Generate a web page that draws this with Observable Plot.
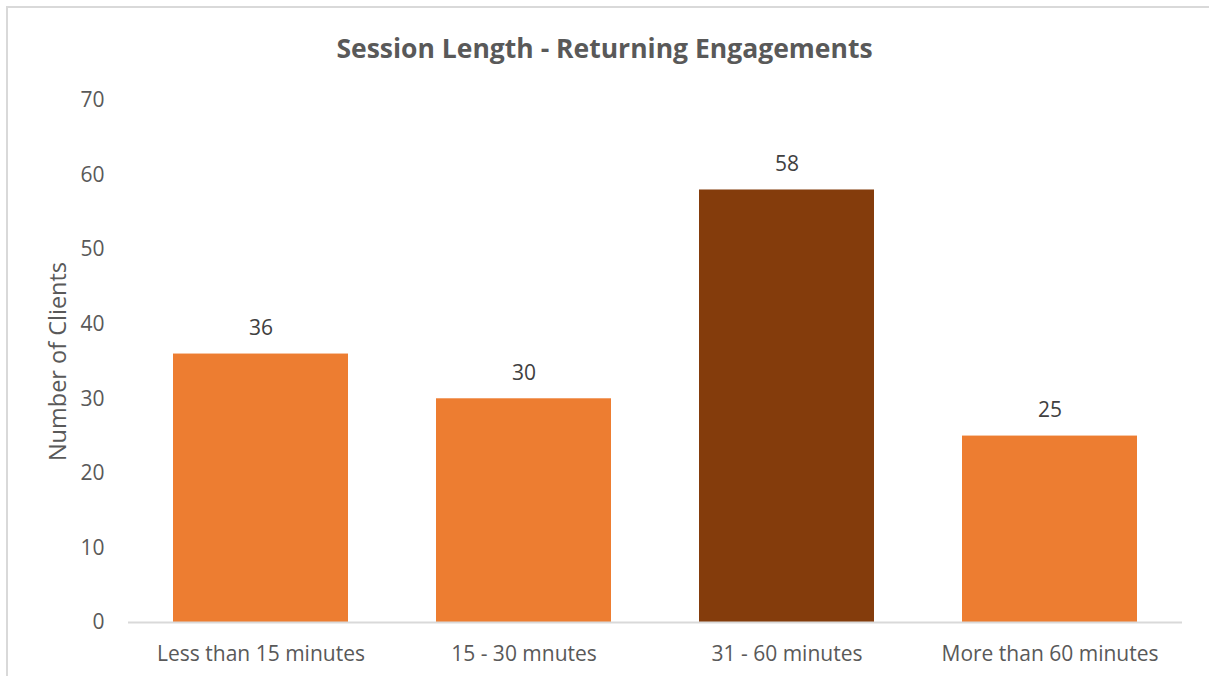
<!DOCTYPE html>
<html>
<head>
<meta charset="utf-8">
<script src="https://cdn.jsdelivr.net/npm/d3@7"></script>
<script src="https://cdn.jsdelivr.net/npm/@observablehq/plot@0.6"></script>
<style>
  html, body { margin: 0; padding: 0; background: #fff; }
  #frame {
    position: absolute; left: 6px; top: 6px; width: 1203px; height: 670px;
    border-top: 2px solid #d9d9d9; border-left: 2px solid #d9d9d9;
    box-sizing: border-box;
  }
  #chart { position: absolute; left: 0; top: 0; width: 1209px; height: 676px; }
  #title {
    height: 80px; line-height: 96px; text-align: center;
    font-family: "Open Sans", sans-serif; font-weight: bold; font-size: 26.5px;
    color: #595959; letter-spacing: 0;
  }
</style>
</head>
<body>
<div id="frame"></div>
<div id="chart">
  <div id="title">Session Length - Returning Engagements</div>
</div>
<script>
const categories = ["Less than 15 minutes", "15 - 30 mnutes", "31 - 60 minutes", "More than 60 minutes"];
const clients = [36, 30, 58, 25];
const highlighted = ["31 - 60 minutes"];
const yTicks = [0, 10, 20, 30, 40, 50, 60, 70];
const yLabel = "Number of Clients";

const rows = categories.map((c, i) => ({category: c, value: clients[i]}));
const textColor = "#595959";

const plot = Plot.plot({
  width: 1209,
  height: 596,
  marginTop: 20,
  marginBottom: 54,
  marginLeft: 128,
  marginRight: 27,
  style: {fontFamily: "\"Open Sans\", sans-serif", fontSize: "21px", color: textColor, background: "transparent"},
  x: {domain: categories, paddingInner: 0.336, paddingOuter: 0.168, label: null},
  y: {domain: [0, 70], ticks: yTicks, label: null},
  marks: [
    Plot.barY(rows, {
      x: "category", y: "value",
      fill: d => highlighted.includes(d.category) ? "#843C0C" : "#ED7D31"
    }),
    Plot.ruleY([0], {stroke: "#d9d9d9", strokeWidth: 2}),
    Plot.axisX({tickSize: 0, tickPadding: 24, fontSize: 21, fill: textColor}),
    Plot.axisY({ticks: yTicks, tickSize: 0, tickPadding: 24, fontSize: 21, fill: textColor, label: null}),
    // rotated y-axis title, centred on the plot's vertical extent
    Plot.text([yLabel], {
      frameAnchor: "left", textAnchor: "middle", rotate: -90, dx: -70,
      text: d => d, fontSize: 23.5, fill: textColor
    }),
    Plot.text(rows, {
      x: "category", y: "value", text: d => String(d.value),
      dy: -26, fontSize: 21, fill: "#404040"
    })
  ]
});
document.getElementById("chart").appendChild(plot);
</script>
</body>
</html>
